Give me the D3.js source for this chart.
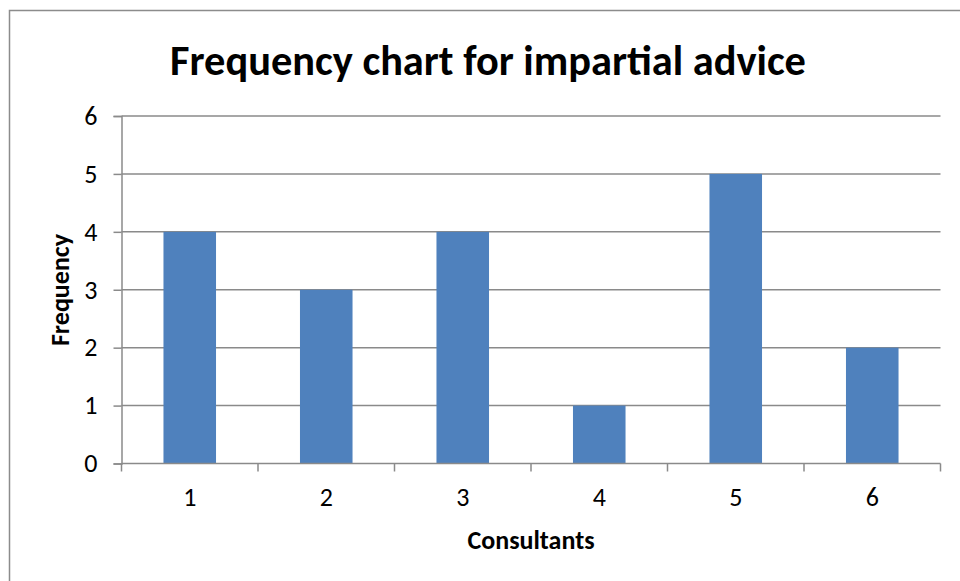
<!DOCTYPE html>
<html><head><meta charset="utf-8">
<script src="https://cdn.jsdelivr.net/npm/d3@7"></script>
<style>body{margin:0;background:#fff}svg{display:block}</style>
</head><body>
<svg id="c" width="960" height="581"></svg>
<script>
const categories = ["1","2","3","4","5","6"];
const frequencies = [4,3,4,1,5,2];
const yTicks = [0,1,2,3,4,5,6];
const titleText = "Frequency chart for impartial advice";
const xTitle = "Consultants";
const yTitle = "Frequency";

const svg = d3.select("#c");
const font = "Carlito, Calibri, 'Open Sans', sans-serif";
// outer border
svg.append("path").attr("d","M9.5,581 V10.5 H960").attr("fill","none").attr("stroke","#8c8c8c").attr("stroke-width",1.5);

const L=121.5, R=940.5, T=116, B=463.5;
const x = d3.scaleBand().domain(categories).range([L,R]).padding(0);
const y = d3.scaleLinear().domain([0,6]).range([B,T]);

// gridlines
svg.append("g").selectAll("line").data(yTicks.filter(d=>d>0)).join("line")
  .attr("x1",L).attr("x2",R).attr("y1",d=>y(d)).attr("y2",d=>y(d))
  .attr("stroke","#8a8a8a").attr("stroke-width",1.5);

// bars
const bw = x.bandwidth()*0.385;
svg.append("g").selectAll("rect").data(frequencies).join("rect")
  .attr("x",(d,i)=>x(categories[i])+x.bandwidth()/2-bw/2)
  .attr("width",bw)
  .attr("y",d=>y(d)).attr("height",d=>B-y(d))
  .attr("fill","#4F81BD");

// y axis
const ya = svg.append("g").attr("transform",`translate(${L},0)`)
  .call(d3.axisLeft(y).tickValues(yTicks).tickSize(8).tickPadding(16).tickFormat(d3.format("d")));
ya.select(".domain").attr("stroke","#8a8a8a").attr("stroke-width",1.5);
ya.selectAll(".tick line").attr("stroke","#8a8a8a").attr("stroke-width",1.5);
ya.selectAll("text").attr("font-family",font).attr("font-size",26).attr("fill","#000");

// x axis
const xa = svg.append("g").attr("transform",`translate(0,${B})`)
  .call(d3.axisBottom(x).tickSize(0).tickPadding(24));
xa.select(".domain").attr("stroke","#8a8a8a").attr("stroke-width",1.5).attr("d",`M${L},0H${R}`);
xa.selectAll("text").attr("font-family",font).attr("font-size",26).attr("fill","#000");
// category boundary ticks
const bounds = categories.map(c=>x(c)).concat([x(categories[categories.length-1])+x.bandwidth()]);
xa.append("g").selectAll("line").data(bounds).join("line")
  .attr("x1",d=>d).attr("x2",d=>d).attr("y1",0).attr("y2",8)
  .attr("stroke","#8a8a8a").attr("stroke-width",1.5);

// titles
svg.append("text").attr("x",488).attr("y",75).attr("text-anchor","middle")
  .attr("font-family",font).attr("font-weight","bold").attr("font-size",42.4).text(titleText);
svg.append("text").attr("x",531).attr("y",549).attr("text-anchor","middle")
  .attr("font-family",font).attr("font-weight","bold").attr("font-size",26).text(xTitle);
svg.append("text").attr("transform","translate(69,290) rotate(-90)").attr("text-anchor","middle")
  .attr("font-family",font).attr("font-weight","bold").attr("font-size",26).text(yTitle);
</script>
</body></html>
